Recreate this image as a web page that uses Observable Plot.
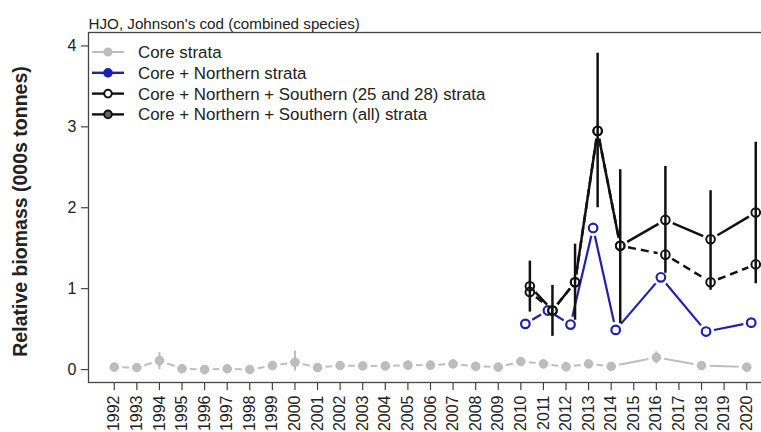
<!DOCTYPE html>
<html>
<head>
<meta charset="utf-8">
<script src="https://cdn.jsdelivr.net/npm/d3@7"></script>
<script src="https://cdn.jsdelivr.net/npm/@observablehq/plot@0.6"></script>
<style>
  body { margin: 0; background: #fff; font-family: "Liberation Sans", Arial, sans-serif; }
  #chart svg { display: block; }
</style>
</head>
<body>
<div id="chart"></div>
<script>
// ---- data ----
const title = "HJO, Johnson's cod (combined species)";
const yLabel = "Relative biomass (000s tonnes)";
const seriesNames = [
  "Core strata",
  "Core + Northern strata",
  "Core + Northern + Southern (25 and 28) strata",
  "Core + Northern + Southern (all) strata"
];
const yearTicks = [1992,1993,1994,1995,1996,1997,1998,1999,2000,2001,2002,2003,2004,2005,2006,2007,2008,2009,2010,2011,2012,2013,2014,2015,2016,2017,2018,2019,2020];
const yTicks = [0, 1, 2, 3, 4];

const coreYears  = [1992,1993,1994,1995,1996,1997,1998,1999,2000,2001,2002,2003,2004,2005,2006,2007,2008,2009,2010,2011,2012,2013,2014,2016,2018,2020];
const coreValues = [0.03,0.025,0.11,0.01,0.0,0.01,0.0,0.05,0.09,0.025,0.05,0.045,0.045,0.055,0.055,0.07,0.04,0.03,0.10,0.07,0.035,0.07,0.04,0.15,0.05,0.03];
const coreLo     = [0.03,0.025,0.0,0.01,0.0,0.01,0.0,0.0,-0.02,0.025,0.02,0.045,0.01,0.055,0.0,0.04,0.04,0.03,0.06,0.03,0.035,0.02,0.04,0.07,0.05,0.03];
const coreHi     = [0.03,0.025,0.21,0.01,0.0,0.01,0.0,0.10,0.23,0.025,0.09,0.045,0.09,0.055,0.10,0.10,0.04,0.03,0.13,0.11,0.035,0.11,0.04,0.22,0.05,0.03];

const extYears        = [2010,2011,2012,2013,2014,2016,2018,2020];
const northValues     = [0.565,0.73,0.556,1.75,0.49,1.14,0.47,0.58];
const south2528Values = [0.96,0.73,1.08,2.95,1.53,1.42,1.08,1.30];
const southAllValues  = [1.03,0.73,1.08,2.95,1.53,1.85,1.61,1.94];
const southAllLo      = [0.71,0.41,0.61,2.00,0.57,1.19,0.98,1.06];
const southAllHi      = [1.34,1.04,1.55,3.91,2.47,2.51,2.21,2.81];

// ---- styles ----
const grey = "#bdbdbd", blue = "#1f1fb0", black = "#111";
const offN = 0.2, offS = 0.4; // horizontal dodge (years) used in the original

const core = coreYears.map((x, i) => ({x, y: coreValues[i], lo: coreLo[i], hi: coreHi[i]}));
const north = extYears.map((x, i) => ({x: x + offN, y: northValues[i]}));
const s2528 = extYears.map((x, i) => ({x: x + offS, y: south2528Values[i]}));
const sAll = extYears.map((x, i) => ({x: x + offS, y: southAllValues[i], lo: southAllLo[i], hi: southAllHi[i]}));
const segs = pts => d3.pairs(pts).map(([a, b]) => ({x1: a.x, y1: a.y, x2: b.x, y2: b.y}));

const seg = (data, stroke, extra = {}) => Plot.arrow(segs(data), {
  x1: "x1", y1: "y1", x2: "x2", y2: "y2",
  stroke, strokeWidth: 2.2, headLength: 0, inset: 8, strokeLinecap: "butt", ...extra
});

const svg = Plot.plot({
  width: 761, height: 432,
  marginLeft: 88, marginTop: 32, marginBottom: 50, marginRight: -20,
  style: {fontFamily: "'Liberation Sans', Arial, sans-serif", fontSize: "16px", color: "#222", background: "white"},
  x: {domain: [1990.86, 2021.54]},
  y: {domain: [-0.16, 4.166]},
  marks: [
    Plot.frame({stroke: "#444", strokeWidth: 1.3}),
    Plot.axisY({ticks: yTicks, tickFormat: d => String(d), tickSize: 7, tickPadding: 5, fontSize: 16, label: null, stroke: "#444", strokeWidth: 1.2}),
    Plot.axisX({ticks: yearTicks, tickFormat: d => String(d), tickRotate: -90, tickSize: 8, tickPadding: 5, fontSize: 16, label: null, stroke: "#444", strokeWidth: 1.2}),
    // core strata
    Plot.ruleX(core, {x: "x", y1: "lo", y2: "hi", stroke: grey, strokeWidth: 2}),
    seg(core, grey, {strokeWidth: 2}),
    Plot.dot(core, {x: "x", y: "y", r: 4.3, fill: grey, stroke: "#b0b0b0", strokeWidth: 0.8}),
    // core + northern
    seg(north, blue),
    Plot.dot(north, {x: "x", y: "y", r: 4.3, fill: "none", stroke: blue, strokeWidth: 2.2}),
    // southern
    Plot.ruleX(sAll, {x: "x", y1: "lo", y2: "hi", stroke: black, strokeWidth: 2.5}),
    seg(s2528, black, {strokeWidth: 2.5, strokeDasharray: "8,5"}),
    seg(sAll, black, {strokeWidth: 2.5}),
    Plot.dot(s2528, {x: "x", y: "y", r: 4.3, fill: "none", stroke: black, strokeWidth: 2}),
    Plot.dot(sAll, {x: "x", y: "y", r: 4.3, fill: "none", stroke: black, strokeWidth: 2}),
    // title and y label
    Plot.text([title], {text: d => d, frameAnchor: "top-left", dy: -14, textAnchor: "start", fontSize: 15.2, fill: "#222"}),
    Plot.text([yLabel], {text: d => d, frameAnchor: "left", textAnchor: "middle", rotate: -90, dx: -68, dy: 4, fontSize: 19.5, fontWeight: "bold", fill: "#222"})
  ]
});

// legend (inside plot, top-left)
const legendStyles = [
  {stroke: grey, fill: grey, r: 3.6, w: 2},
  {stroke: blue, fill: blue, r: 3.8, w: 2.4},
  {stroke: black, fill: "white", r: 3.8, w: 2.4},
  {stroke: black, fill: "#666", r: 3.8, w: 2.4}
];
const lg = d3.select(svg).append("g").attr("transform", "translate(92,52)");
seriesNames.forEach((name, i) => {
  const s = legendStyles[i];
  const row = lg.append("g").attr("transform", `translate(0,${i * 20.8})`);
  row.append("line").attr("x1", 0).attr("x2", 32).attr("y1", 0).attr("y2", 0)
    .attr("stroke", s.stroke).attr("stroke-width", s.w);
  row.append("circle").attr("cx", 16).attr("cy", 0).attr("r", s.r)
    .attr("fill", s.fill).attr("stroke", s.stroke).attr("stroke-width", 2);
  row.append("text").attr("x", 46).attr("y", 0).attr("dy", "0.35em")
    .attr("text-anchor", "start").attr("font-size", 16.9).attr("fill", "#222").text(name);
});

document.getElementById("chart").append(svg);
</script>
</body>
</html>
